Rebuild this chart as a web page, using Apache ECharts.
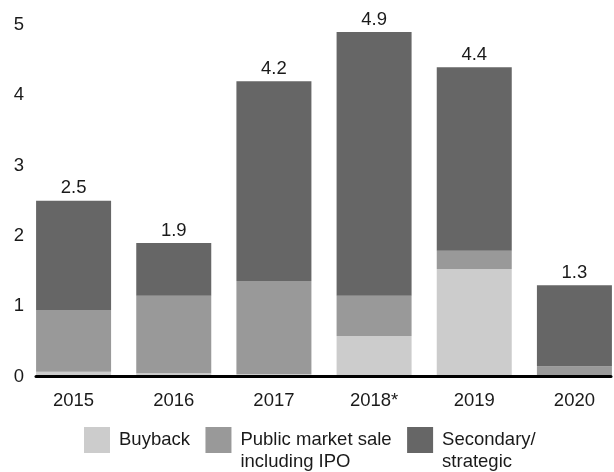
<!DOCTYPE html>
<html>
<head>
<meta charset="utf-8">
<script src="https://cdn.jsdelivr.net/npm/echarts@6/dist/echarts.min.js"></script>
<style>
  html, body { margin: 0; padding: 0; background: #fff; }
  #chart { width: 614px; height: 472px; }
</style>
</head>
<body>
<div id="chart"></div>
<script>
// Exit values by route, per year
const years = ['2015', '2016', '2017', '2018*', '2019', '2020'];
const buyback = [0.07, 0.05, 0.04, 0.58, 1.53, 0];
const publicSale = [0.88, 1.10, 1.32, 0.57, 0.26, 0.15];
const secondary = [1.55, 0.75, 2.84, 3.75, 2.61, 1.15];
const totals = [2.5, 1.9, 4.2, 4.9, 4.4, 1.3];
const yTicks = [0, 1, 2, 3, 4, 5];

const seriesNames = ['Buyback', 'Public market sale\nincluding IPO', 'Secondary/\nstrategic'];
const colors = ['#cccccc', '#999999', '#666666'];

const FONT = '"Liberation Sans", Arial, sans-serif';
const TEXT = '#1a1a1a';
const FS = 18.5;

const chart = echarts.init(document.getElementById('chart'), null, { renderer: 'canvas' });

const gridTop = 25, gridBottom = 95.3;

const option = {
  animation: false,
  color: colors,
  textStyle: { fontFamily: FONT, color: TEXT },
  grid: [
    // bars: each category band is 100px wide, running past the right edge
    { left: 23.5, width: 601, top: gridTop, bottom: gridBottom, outerBoundsMode: 'none' },
    // baseline and value labels span the bars only
    { left: 36, right: 3, top: gridTop, bottom: gridBottom, outerBoundsMode: 'none' }
  ],
  xAxis: [
    {
      type: 'category', gridIndex: 0, data: years,
      axisLine: { show: false }, axisTick: { show: false },
      axisLabel: { color: TEXT, fontSize: FS, fontFamily: FONT, margin: 14.5 }
    },
    {
      type: 'category', gridIndex: 1, data: years, z: 5,
      axisLine: { show: true, lineStyle: { color: '#000', width: 3 } },
      axisTick: { show: false }, axisLabel: { show: false }
    }
  ],
  yAxis: [
    {
      type: 'value', gridIndex: 0, min: yTicks[0], max: yTicks[yTicks.length - 1], interval: 1,
      axisLine: { show: false }, axisTick: { show: false }, splitLine: { show: false },
      axisLabel: { show: false }
    },
    {
      type: 'value', gridIndex: 1, min: yTicks[0], max: yTicks[yTicks.length - 1], interval: 1,
      axisLine: { show: false }, axisTick: { show: false }, splitLine: { show: false },
      axisLabel: { color: TEXT, fontSize: FS, fontFamily: FONT, margin: 12, align: 'right' }
    }
  ],
  legend: {
    left: 84, top: 407, padding: 0,
    itemWidth: 26, itemHeight: 26, itemGap: 15.5,
    icon: 'rect',
    selectedMode: false,
    // two-line names hang below the swatch: a leading blank line keeps
    // the first line level with the swatch centre
    formatter: name => (name.indexOf('\n') >= 0 ? '\n' + name : name),
    textStyle: { fontSize: FS, fontFamily: FONT, color: TEXT, lineHeight: 22, padding: [0, 0, 0, 4] },
    data: seriesNames.map(n => ({ name: n }))
  },
  series: [
    {
      name: seriesNames[0], type: 'bar', stack: 'total', barWidth: 75,
      xAxisIndex: 0, yAxisIndex: 0, data: buyback
    },
    {
      name: seriesNames[1], type: 'bar', stack: 'total', barWidth: 75,
      xAxisIndex: 0, yAxisIndex: 0, data: publicSale
    },
    {
      name: seriesNames[2], type: 'bar', stack: 'total', barWidth: 75,
      xAxisIndex: 0, yAxisIndex: 0, data: secondary,
      label: {
        show: true, position: 'top', distance: 3,
        fontSize: FS, fontFamily: FONT, color: TEXT,
        formatter: p => totals[p.dataIndex].toFixed(1)
      }
    }
  ]
};

chart.setOption(option);
</script>
</body>
</html>
